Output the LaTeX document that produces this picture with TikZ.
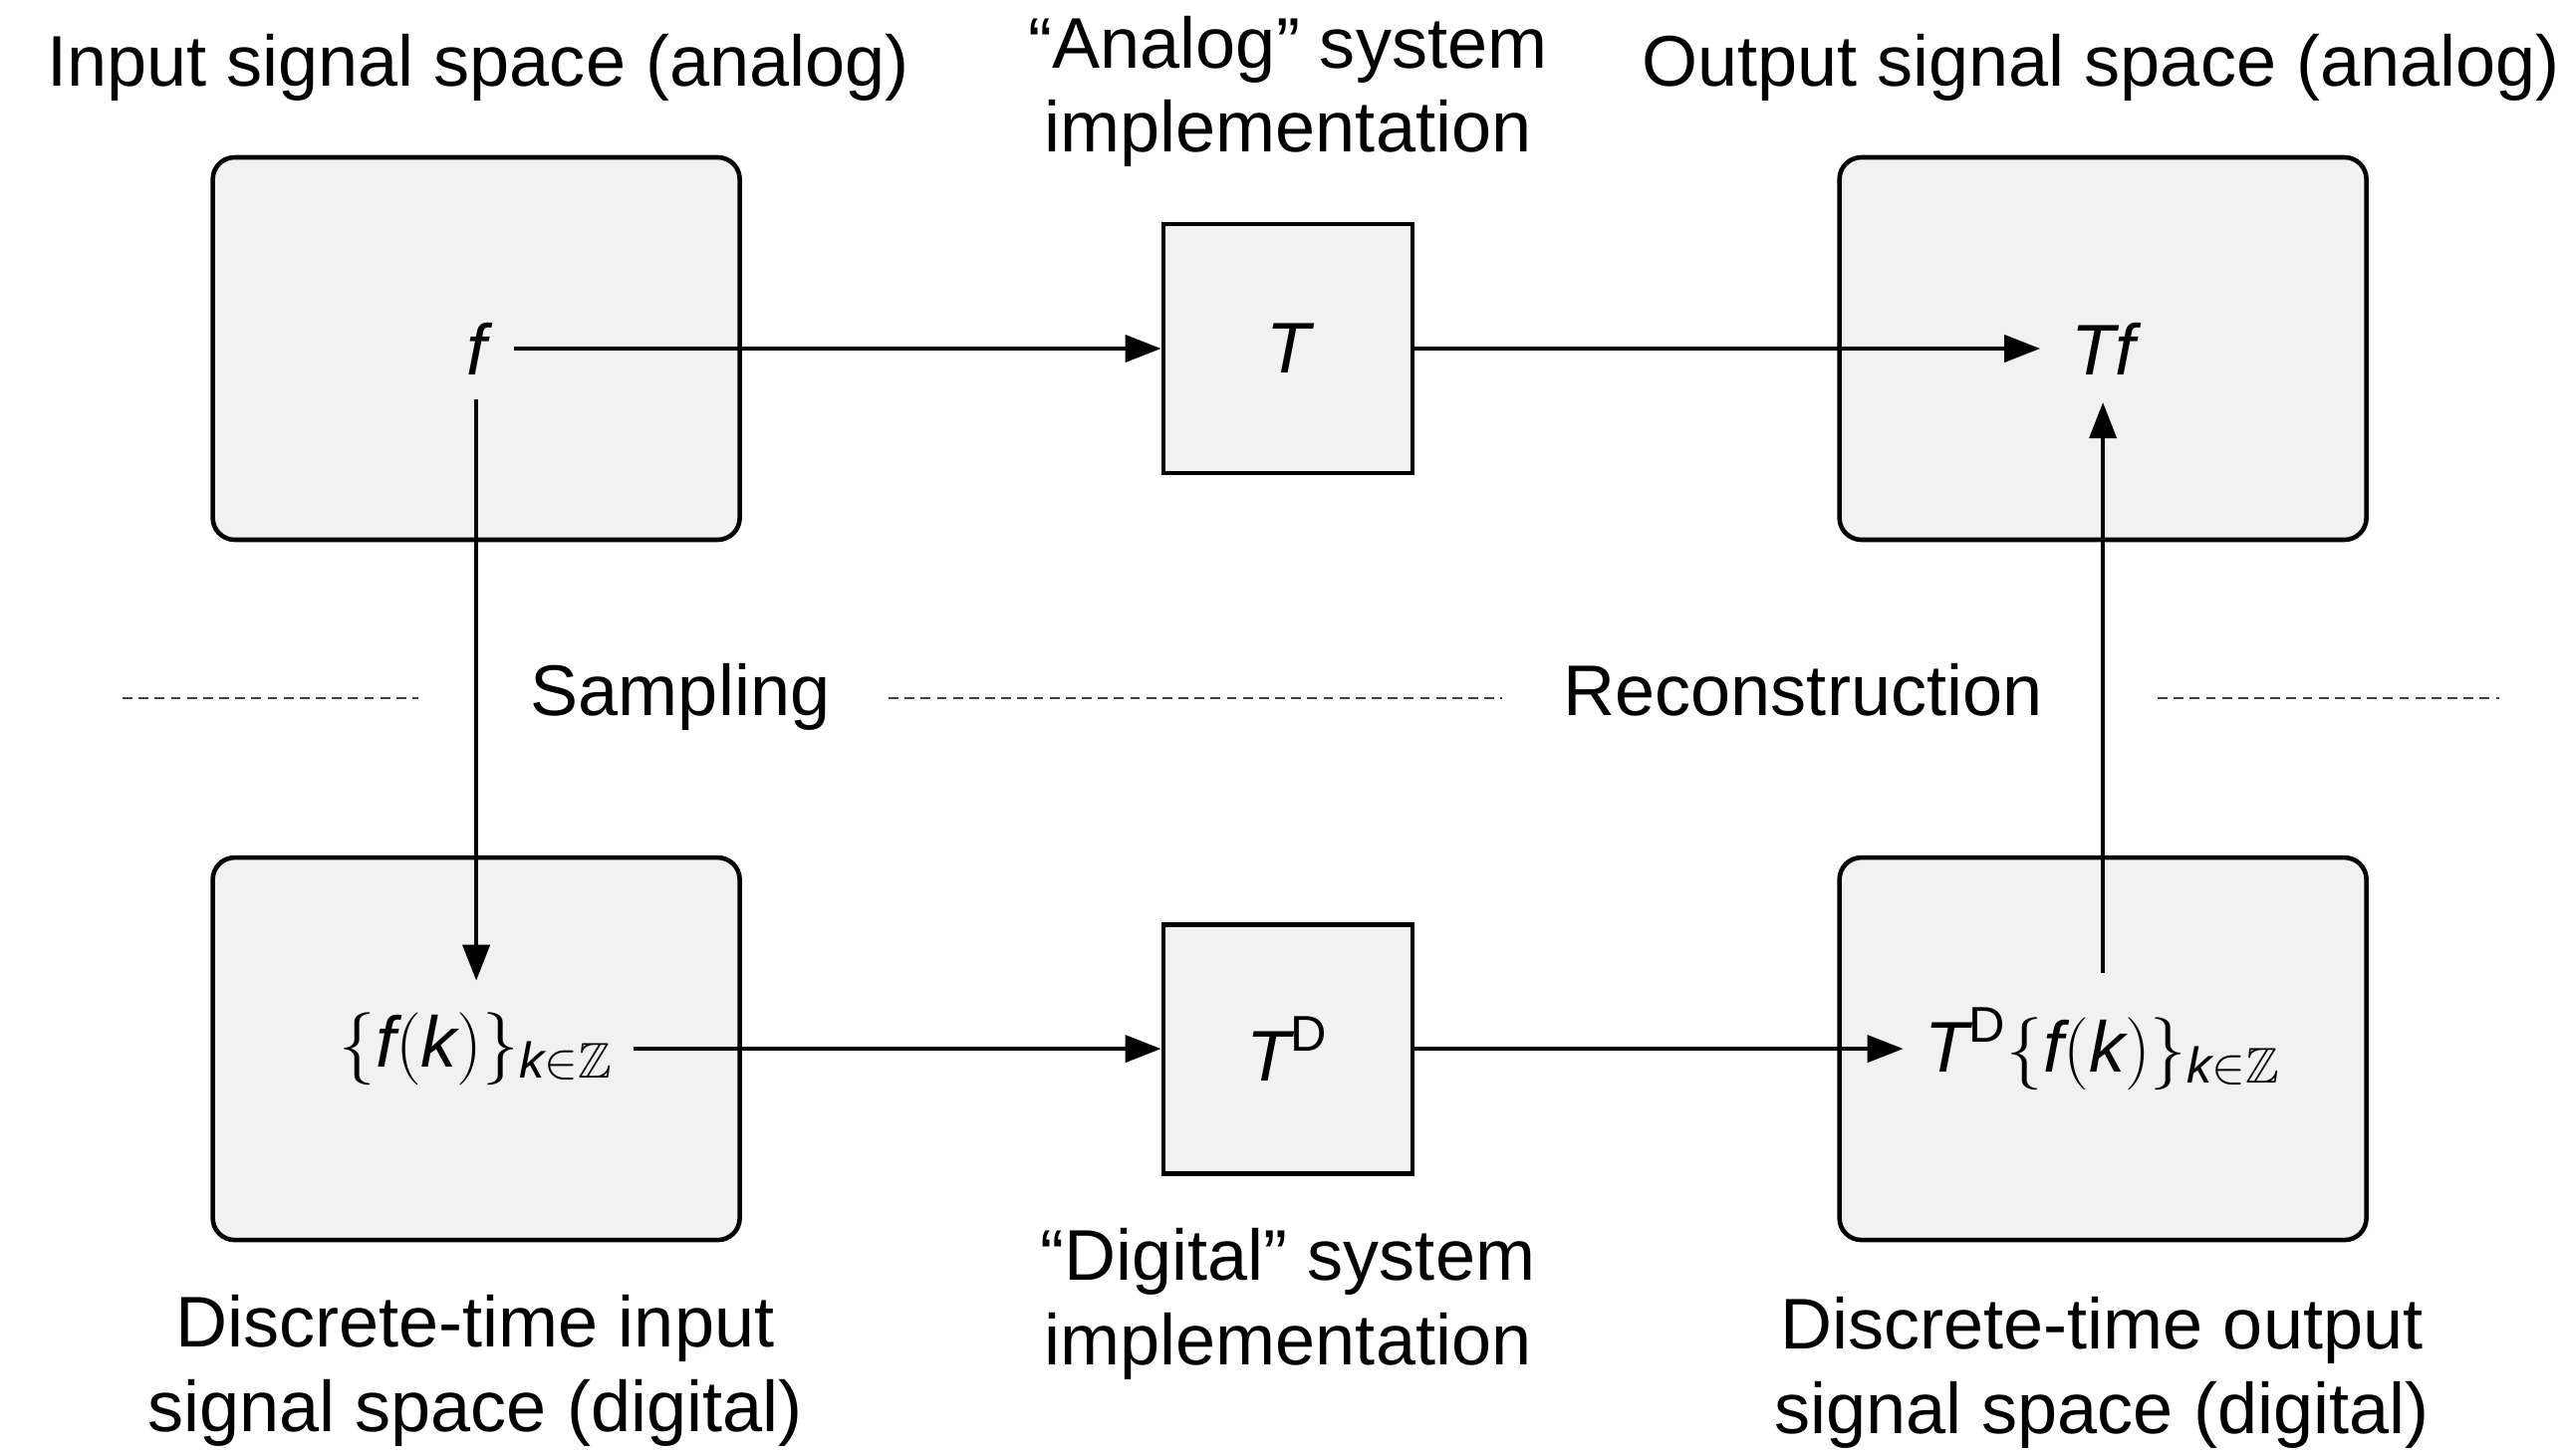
\documentclass[tikz,border=0pt]{standalone}
\usepackage{amsmath,amssymb}
\usepackage{fontspec}
\setmainfont{Liberation Sans}
\usetikzlibrary{arrows.meta,calc}
\newcommand{\sv}[1]{\text{\itshape #1}}
\tikzset{
  space/.style={draw, line width=1.3pt, fill=boxgray, rounded corners=0.22cm,
                minimum width=5.29cm, minimum height=3.84cm, inner sep=0pt},
  sysbox/.style={draw, line width=1.4pt, fill=boxgray,
                minimum width=2.50cm, minimum height=2.50cm, inner sep=0pt},
  sym/.style={inner sep=0pt, outer sep=0pt},
  lbl/.style={anchor=base, align=center, inner sep=0pt},
  conn/.style={line width=1.15pt, -{Triangle[length=0.36cm, width=0.27cm]}},
  sep/.style={line width=0.6pt, black!75, dash pattern=on 2.8pt off 1.8pt}
}
\definecolor{boxgray}{HTML}{F1F1F1}
\begin{document}
\begin{tikzpicture}[font=\fontsize{20.5}{24}\selectfont]
\useasboundingbox (0,0) rectangle (25.76,-14.61);
% boxes
\node[space]  (in)   at (4.781,-3.50)   {};
\node[sysbox] (T)    at (12.93,-3.50)   {\itshape T};
\node[space]  (out)  at (21.111,-3.50)  {};
\node[space]  (din)  at (4.781,-10.531) {};
\node[sysbox] (TD)   at (12.93,-10.531) {$\sv{T}^{\text{D}}$};
\node[space]  (dout) at (21.111,-10.531){};
% symbols
\node[sym] (f)    at (4.781,-3.50)   {\itshape f};
\node[sym] (Tf)   at (21.111,-3.50)  {\itshape Tf};
\node[sym] (fk)   at (4.781,-10.531) {$\{\sv{f}(\sv{k})\}_{\sv{k}\in\mathbb{Z}}$};
\node[sym] (TDfk) at (21.111,-10.531){$\sv{T}^{\text{D}}\{\sv{f}(\sv{k})\}_{\sv{k}\in\mathbb{Z}}$};
% labels (base anchor = baseline of the last line)
\node[lbl] (lin)  at (4.80,-0.87)   {Input signal space (analog)};
\node[lbl] (lan)  at (12.93,-1.53)  {``Analog'' system\\implementation};
\node[lbl] (lout) at (21.09,-0.87)  {Output signal space (analog)};
\node[lbl] (lsam) at (6.83,-7.18)   {Sampling};
\node[lbl] (lrec) at (18.10,-7.18)  {Reconstruction};
\node[lbl] (ldig) at (12.93,-13.70) {``Digital'' system\\implementation};
\node[lbl] (ldin) at (4.77,-14.37)  {Discrete-time input\\signal space (digital)};
\node[lbl] (ldout) at (21.10,-14.39) {Discrete-time output\\signal space (digital)};
% separators
\draw[sep] (1.23,-7.01) -- (4.20,-7.01);
\draw[sep] (8.92,-7.01) -- (15.08,-7.01);
\draw[sep] (21.66,-7.01) -- (25.09,-7.01);
% connectors
\draw[conn, shorten <=0.28cm] (f.east) -- (f.east -| T.west);
\draw[conn, shorten >=0.31cm] (T.east) -- (T.east -| Tf.west);
\draw[conn, shorten <=0.25cm, shorten >=0.32cm] (f.south) -- (f.south |- fk.north);
\draw[conn, shorten <=0.2cm] (fk.east) -- (fk.east -| TD.west);
\draw[conn, shorten >=0.22cm] (TD.east) -- (TD.east -| TDfk.west);
\draw[conn, shorten <=0.35cm, shorten >=0.28cm] (TDfk.north) -- (TDfk.north |- Tf.south);
\end{tikzpicture}
\end{document}
